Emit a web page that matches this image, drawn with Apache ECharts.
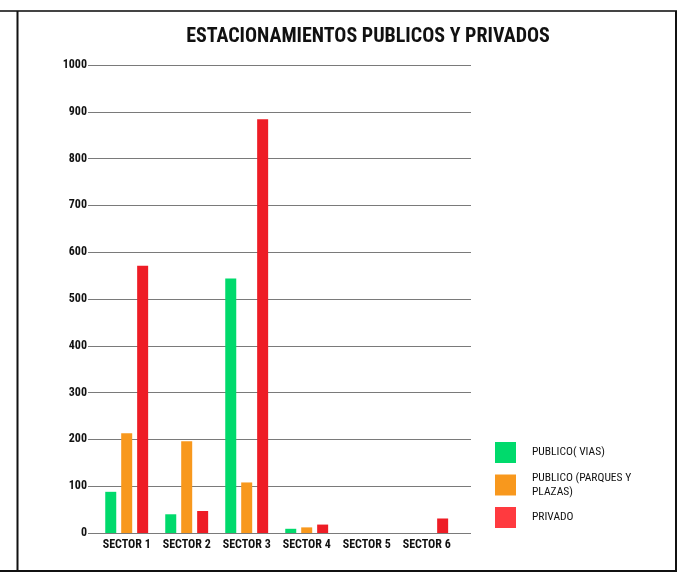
<!DOCTYPE html>
<html>
<head>
<meta charset="utf-8">
<style>html,body{margin:0;padding:0;background:#fff}#c{width:682px;height:582px}</style>
<script src="https://cdn.jsdelivr.net/npm/echarts@6/dist/echarts.min.js"></script>
</head>
<body>
<div id="c"></div>
<script>
var titleText = 'ESTACIONAMIENTOS PUBLICOS Y PRIVADOS';
var categories = ['SECTOR 1', 'SECTOR 2', 'SECTOR 3', 'SECTOR 4', 'SECTOR 5', 'SECTOR 6'];
var seriesNames = ['PUBLICO( VIAS)', 'PUBLICO (PARQUES Y PLAZAS)', 'PRIVADO'];
var publicoVias = [88, 40, 544, 9, 0, 0];
var publicoParques = [213, 196, 108, 12, 0, 0];
var privado = [571, 47, 884, 18, 0, 31];
var yTicks = [0, 100, 200, 300, 400, 500, 600, 700, 800, 900, 1000];

var FONT = '"Roboto Condensed", "Open Sans Condensed", sans-serif';
var colors = ['#00DA6C', '#F8981D', '#EE1C25'];
var legendColors = ['#00DA6C', '#F8981D', '#FF3A3F'];

var chart = echarts.init(document.getElementById('c'), null, {renderer: 'canvas'});
var top0 = 65, h0 = 468;
chart.setOption({
  animation: false,
  backgroundColor: '#fff',
  title: {
    text: titleText, left: 368, top: 27, textAlign: 'center', padding: 0,
    textStyle: {fontFamily: FONT, fontWeight: 'bold', fontSize: 20, color: '#111'}
  },
  legend: {
    orient: 'vertical', left: 495, top: 442, padding: 0, itemWidth: 21, itemHeight: 21, itemGap: 8,
    icon: 'rect',
    data: seriesNames.map(function (n, i) { return {name: n, itemStyle: {color: legendColors[i]}}; }),
    formatter: function (n) { return n === seriesNames[1] ? 'PUBLICO (PARQUES Y\nPLAZAS)' : n; },
    textStyle: {fontFamily: FONT, fontSize: 11.5, color: '#111', padding: [0, 0, 0, 11], lineHeight: 14}
  },
  grid: [
    {left: 88, top: top0, width: 383, height: h0},
    {left: 96.7, top: top0, width: 360, height: h0}
  ],
  xAxis: [
    {gridIndex: 0, type: 'category', data: categories, show: false},
    {gridIndex: 1, type: 'category', data: categories,
      axisLine: {show: false}, axisTick: {show: false},
      axisLabel: {fontFamily: FONT, fontWeight: 'bold', fontSize: 12, color: '#111', margin: 6, interval: 0}}
  ],
  yAxis: [
    {gridIndex: 0, type: 'value', min: yTicks[0], max: yTicks[yTicks.length - 1], interval: 100,
      axisLine: {show: false}, axisTick: {show: false},
      axisLabel: {fontFamily: FONT, fontWeight: 'bold', fontSize: 12, color: '#111', margin: 1,
        formatter: function (v) { return String(v); }},
      splitLine: {lineStyle: {color: '#7a7a7a', width: 1}}},
    {gridIndex: 1, type: 'value', min: 0, max: 1000, interval: 100, show: false, splitLine: {show: false}}
  ],
  series: [
    {name: seriesNames[0], type: 'bar', xAxisIndex: 1, yAxisIndex: 1, data: publicoVias,
      barWidth: 11, barGap: '45%', itemStyle: {color: colors[0]}},
    {name: seriesNames[1], type: 'bar', xAxisIndex: 1, yAxisIndex: 1, data: publicoParques,
      barWidth: 11, barGap: '45%', itemStyle: {color: colors[1]}},
    {name: seriesNames[2], type: 'bar', xAxisIndex: 1, yAxisIndex: 1, data: privado,
      barWidth: 11, barGap: '45%', itemStyle: {color: colors[2]}}
  ],
  graphic: [
    {type: 'line', shape: {x1: 0, y1: 11, x2: 677, y2: 11}, style: {stroke: '#444', lineWidth: 2}, silent: true},
    {type: 'line', shape: {x1: 0, y1: 571, x2: 677, y2: 571}, style: {stroke: '#111', lineWidth: 2}, silent: true},
    {type: 'line', shape: {x1: 17.5, y1: 11, x2: 17.5, y2: 571}, style: {stroke: '#111', lineWidth: 2}, silent: true},
    {type: 'line', shape: {x1: 676, y1: 11, x2: 676, y2: 571}, style: {stroke: '#111', lineWidth: 2}, silent: true}
  ]
});
</script>
</body>
</html>
